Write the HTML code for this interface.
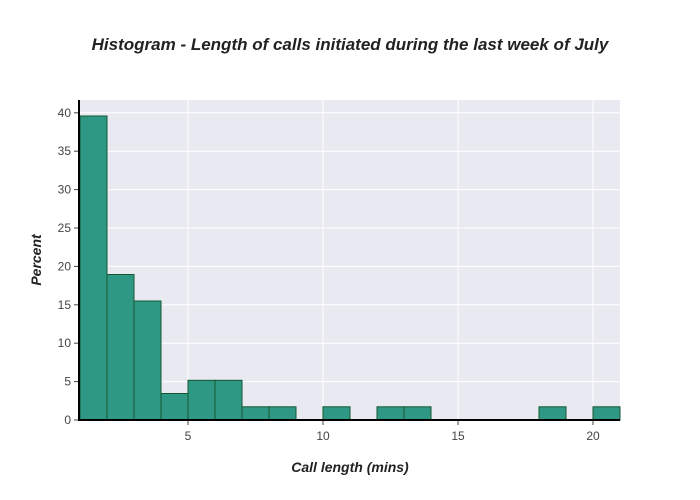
<!DOCTYPE html>
<html><head><style>body{margin:0;background:#fff}svg{display:block}text{font-family:"Liberation Sans",sans-serif}</style></head><body>
<svg width="700" height="500" xmlns="http://www.w3.org/2000/svg">
<rect x="80" y="100" width="540" height="320" fill="#e9e9f1"/>
<g stroke="#fff" stroke-width="1">
<line x1="80" x2="620" y1="381.6" y2="381.6"/><line x1="80" x2="620" y1="343.2" y2="343.2"/><line x1="80" x2="620" y1="304.8" y2="304.8"/><line x1="80" x2="620" y1="266.4" y2="266.4"/><line x1="80" x2="620" y1="228" y2="228"/><line x1="80" x2="620" y1="189.6" y2="189.6"/><line x1="80" x2="620" y1="151.2" y2="151.2"/><line x1="80" x2="620" y1="112.8" y2="112.8"/>
<line x1="188" x2="188" y1="100" y2="420"/><line x1="323" x2="323" y1="100" y2="420"/><line x1="458" x2="458" y1="100" y2="420"/><line x1="593" x2="593" y1="100" y2="420"/>
</g>
<g fill="#2e9884" stroke="#14572f" stroke-width="1">
<rect x="80" y="116" width="27" height="304"/>
<rect x="107" y="274.5" width="27" height="145.5"/>
<rect x="134" y="301" width="27" height="119"/>
<rect x="161" y="393.5" width="27" height="26.5"/>
<rect x="188" y="380.3" width="27" height="39.7"/>
<rect x="215" y="380.3" width="27" height="39.7"/>
<rect x="242" y="406.8" width="27" height="13.2"/>
<rect x="269" y="406.8" width="27" height="13.2"/>
<rect x="323" y="406.8" width="27" height="13.2"/>
<rect x="377" y="406.8" width="27" height="13.2"/>
<rect x="404" y="406.8" width="27" height="13.2"/>
<rect x="539" y="406.8" width="27" height="13.2"/>
<rect x="593" y="406.8" width="27" height="13.2"/>
</g>
<line x1="79" y1="100" x2="79" y2="421" stroke="#000" stroke-width="2"/>
<line x1="78" y1="420" x2="620" y2="420" stroke="#000" stroke-width="2"/>
<g stroke="#444"><line x1="74" x2="78" y1="420" y2="420"/><line x1="74" x2="78" y1="381.6" y2="381.6"/><line x1="74" x2="78" y1="343.2" y2="343.2"/><line x1="74" x2="78" y1="304.8" y2="304.8"/><line x1="74" x2="78" y1="266.4" y2="266.4"/><line x1="74" x2="78" y1="228" y2="228"/><line x1="74" x2="78" y1="189.6" y2="189.6"/><line x1="74" x2="78" y1="151.2" y2="151.2"/><line x1="74" x2="78" y1="112.8" y2="112.8"/>
<line x1="188" x2="188" y1="421" y2="425"/><line x1="323" x2="323" y1="421" y2="425"/><line x1="458" x2="458" y1="421" y2="425"/><line x1="593" x2="593" y1="421" y2="425"/></g>
<g font-size="12" fill="#444" text-anchor="end">
<text x="71" y="424">0</text><text x="71" y="385.6">5</text><text x="71" y="347.2">10</text><text x="71" y="308.8">15</text><text x="71" y="270.4">20</text><text x="71" y="232">25</text><text x="71" y="193.6">30</text><text x="71" y="155.2">35</text><text x="71" y="116.8">40</text>
</g>
<g font-size="12" fill="#444" text-anchor="middle">
<text x="188" y="440">5</text><text x="323" y="440">10</text><text x="458" y="440">15</text><text x="593" y="440">20</text>
</g>
<text x="350" y="50" font-size="17" font-weight="bold" font-style="italic" fill="#222" text-anchor="middle">Histogram -  Length of calls initiated during the last week of July</text>
<text x="350" y="472" font-size="14" font-weight="bold" font-style="italic" fill="#222" text-anchor="middle">Call length (mins)</text>
<text transform="translate(41,260) rotate(-90)" font-size="14" font-weight="bold" font-style="italic" fill="#222" text-anchor="middle">Percent</text>
</svg>
</body></html>
